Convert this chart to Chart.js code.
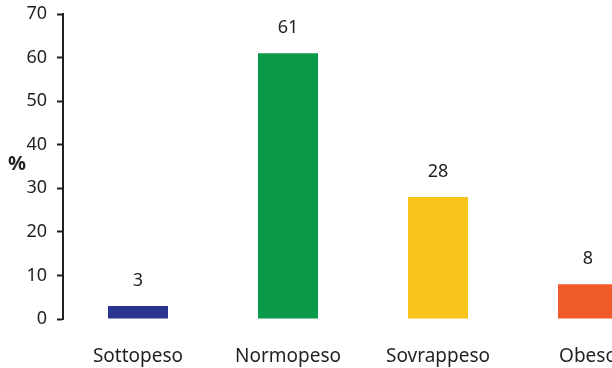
<!DOCTYPE html>
<html>
<head>
<meta charset="utf-8">
<script src="https://cdn.jsdelivr.net/npm/chart.js@4/dist/chart.umd.min.js"></script>
<style>
    html, body { margin: 0; padding: 0; background: #fff; overflow: hidden; }
    #wrap { width: 663px; height: 368px; }
</style>
</head>
<body>
<div id="wrap"><canvas id="bmiChart"></canvas></div>
<script>
// categorie e valori (%)
const categories = ['Sottopeso', 'Normopeso', 'Sovrappeso', 'Obeso'];
const percentages = [3, 61, 28, 8];
const barColors = ['#2b3591', '#0a9a4a', '#f9c51c', '#f15a29'];
const yTicks = [0, 10, 20, 30, 40, 50, 60, 70];

const textColor = '#231f20';
const fontFamily = '"Noto Sans", sans-serif';

// scrive il valore sopra ogni barra
const valueLabels = {
    id: 'valueLabels',
    afterDatasetsDraw(chart) {
        const ctx = chart.ctx;
        const meta = chart.getDatasetMeta(0);
        ctx.save();
        ctx.fillStyle = textColor;
        ctx.font = '18px ' + fontFamily;
        ctx.textAlign = 'center';
        ctx.textBaseline = 'middle';
        meta.data.forEach((bar, i) => {
            ctx.fillText(String(percentages[i]), bar.x, bar.y - 25);
        });
        ctx.restore();
    }
};

// etichetta "%" a sinistra dell'asse
const unitLabel = {
    id: 'unitLabel',
    afterDraw(chart) {
        const ctx = chart.ctx;
        const y = chart.scales.y;
        ctx.save();
        ctx.fillStyle = textColor;
        ctx.font = 'bold 20px ' + fontFamily;
        ctx.textAlign = 'left';
        ctx.textBaseline = 'middle';
        ctx.fillText('%', 8, y.getPixelForValue(35.5));
        ctx.restore();
    }
};

const ctx = document.getElementById('bmiChart').getContext('2d');
new Chart(ctx, {
    type: 'bar',
    data: {
        labels: categories,
        datasets: [{
            data: percentages,
            backgroundColor: barColors,
            borderWidth: 0,
            barPercentage: 0.4,
            categoryPercentage: 1
        }]
    },
    options: {
        responsive: true,
        maintainAspectRatio: false,
        animation: false,
        layout: { padding: { top: 14, left: 0, right: 0, bottom: 0 } },
        plugins: {
            legend: { display: false },
            tooltip: { enabled: false }
        },
        scales: {
            x: {
                grid: { display: false },
                border: { display: false },
                ticks: {
                    color: textColor,
                    font: { family: fontFamily, size: 19 },
                    padding: 18
                },
                afterFit: s => { s.height = 49; }
            },
            y: {
                min: 0,
                max: 70,
                afterBuildTicks: s => { s.ticks = yTicks.map(v => ({ value: v })); },
                grid: {
                    display: true,
                    drawOnChartArea: false,
                    drawTicks: true,
                    tickLength: 6,
                    tickWidth: 2,
                    color: textColor
                },
                border: { display: true, color: textColor, width: 2 },
                ticks: {
                    color: textColor,
                    font: { family: fontFamily, size: 18 },
                    padding: 10
                },
                afterFit: s => {
                    s.width = 63;
                    s.paddingTop = 0;
                    s.paddingBottom = 0;
                }
            }
        }
    },
    plugins: [valueLabels, unitLabel]
});
</script>
</body>
</html>
